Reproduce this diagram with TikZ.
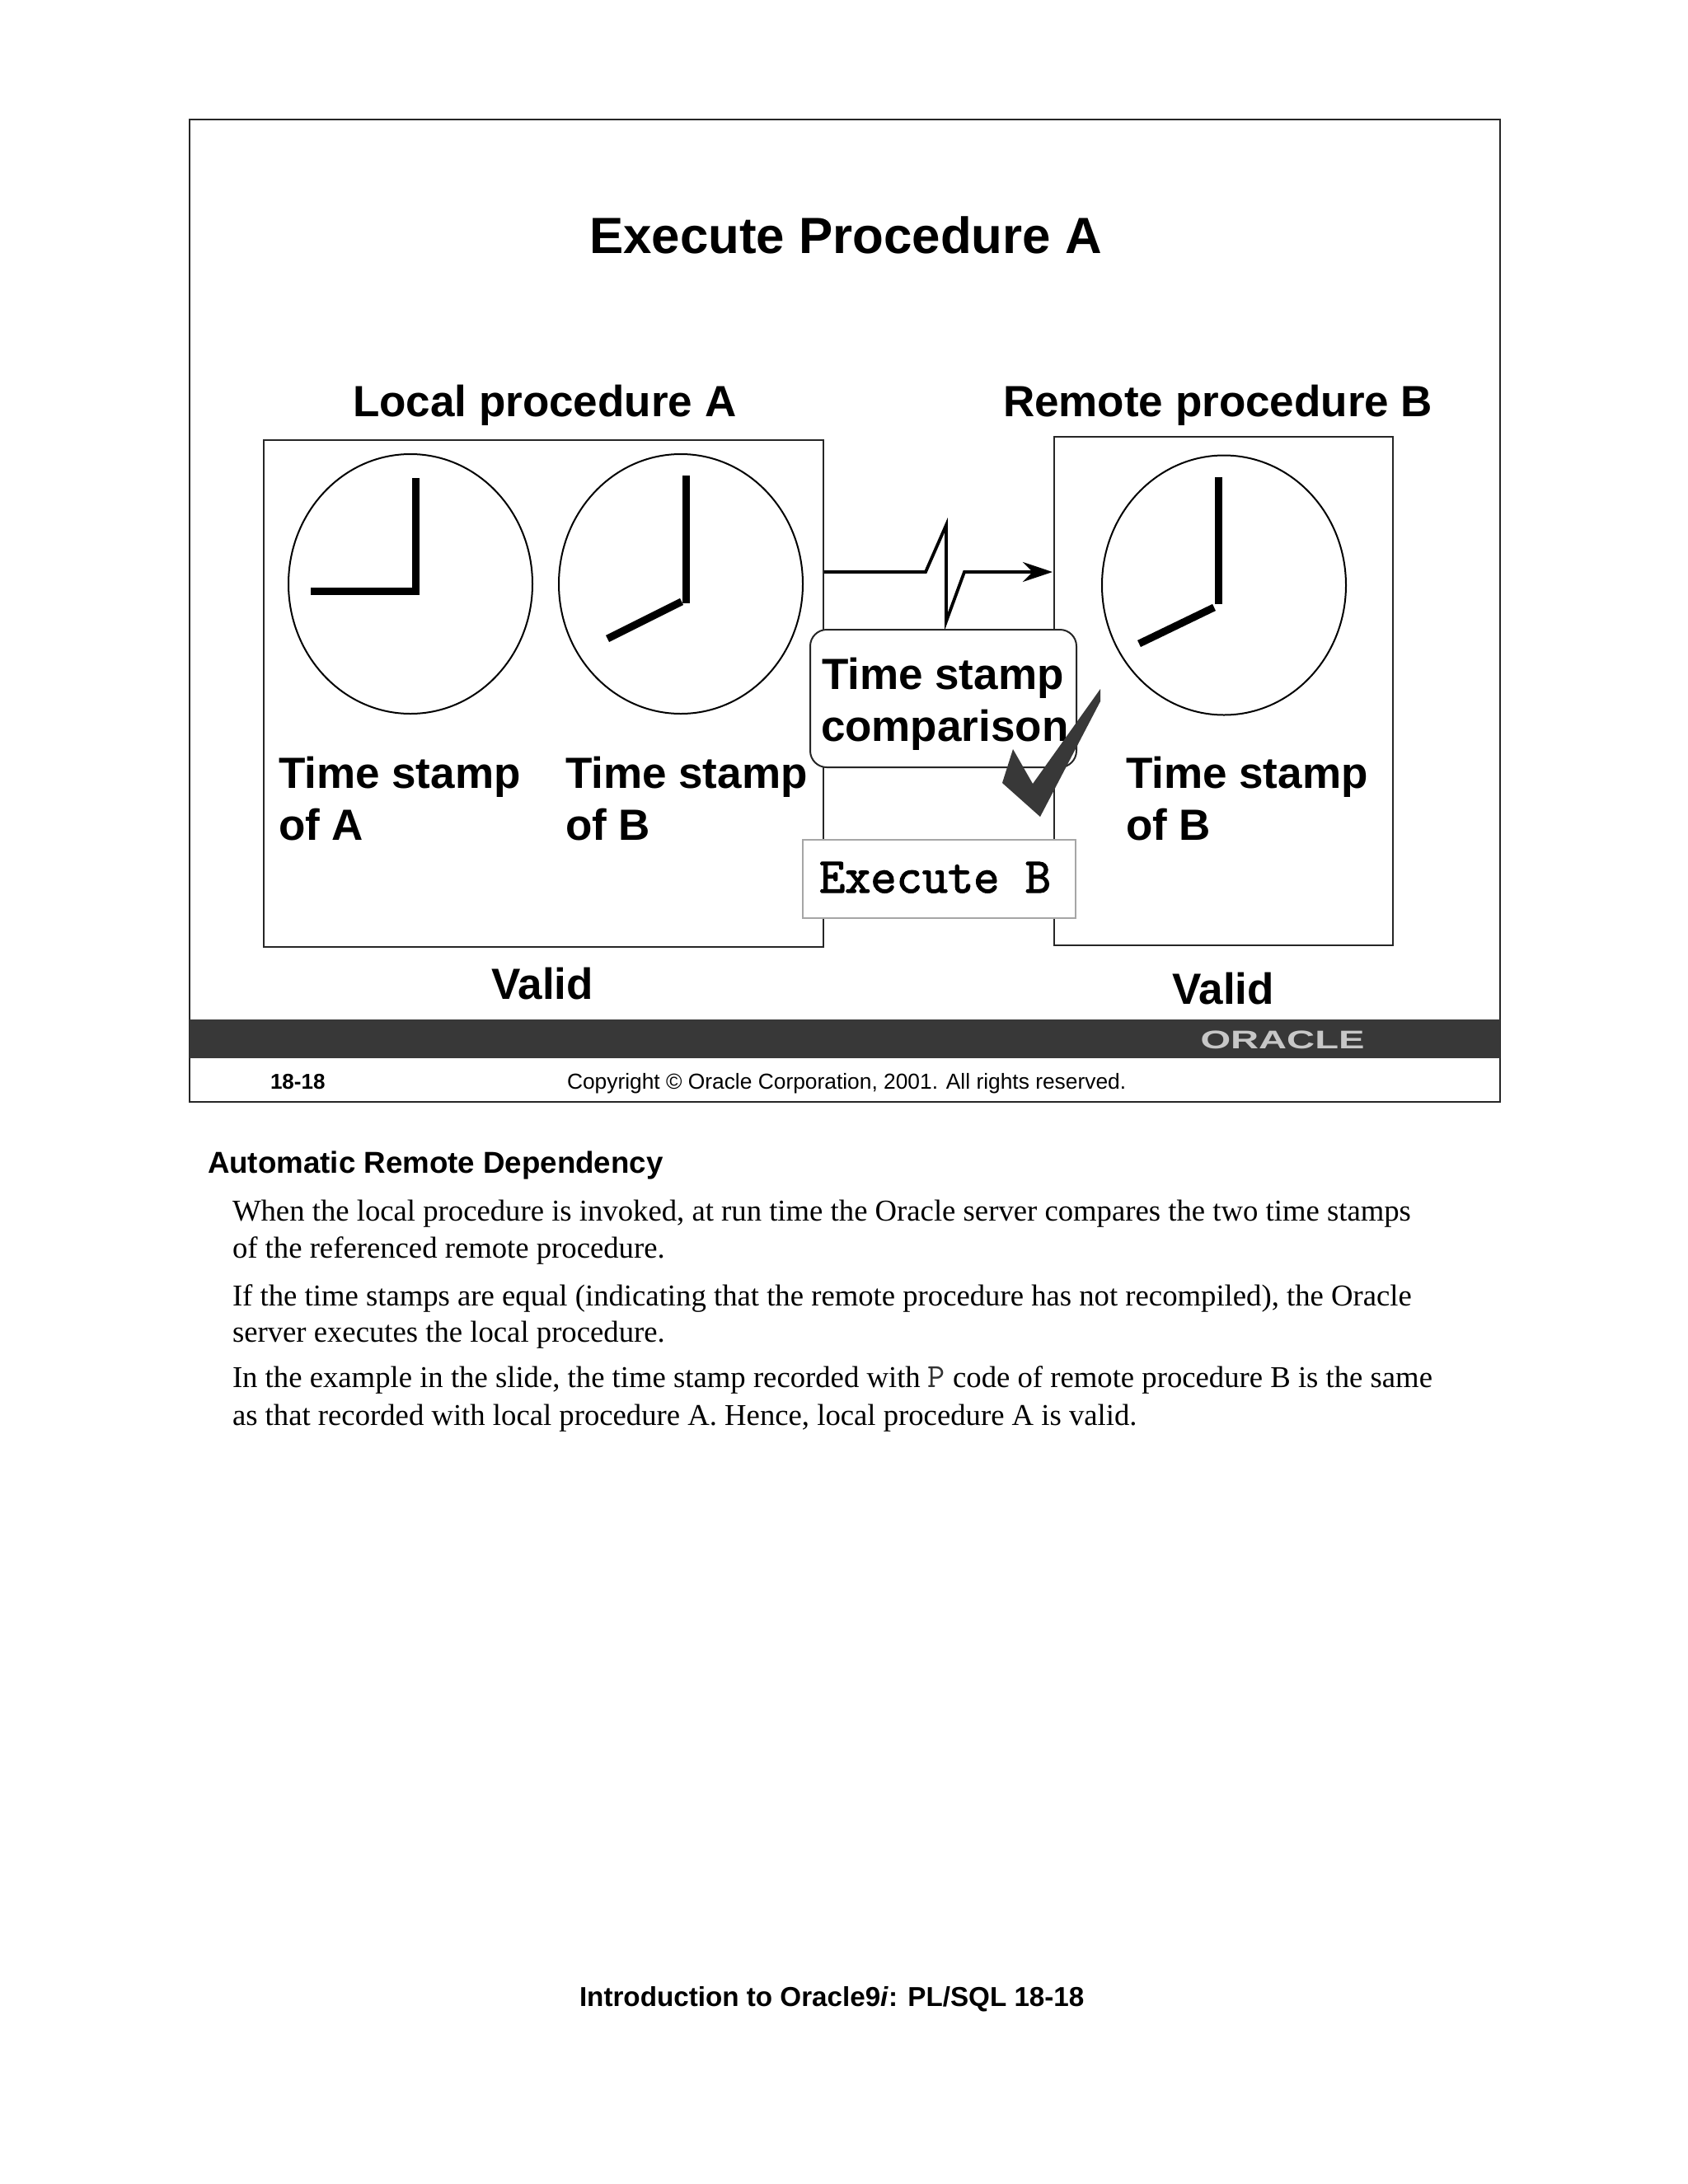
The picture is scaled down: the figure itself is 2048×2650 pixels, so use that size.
\documentclass[tikz,border=0pt]{standalone}
\usepackage{fontspec}
\usetikzlibrary{arrows.meta}
\setmainfont{Liberation Sans}
\newfontfamily\serifbody{Liberation Serif}
\newfontfamily\execfont[FakeBold=2.2]{Latin Modern Mono}
\tikzset{
  txt/.style={anchor=base west,inner sep=0pt,outer sep=0pt,font=#1},
  ctxt/.style={anchor=base,inner sep=0pt,outer sep=0pt,font=#1},
  frame/.style={draw=black!85,line width=1pt,fill=white},
  clock/.style={draw=black,line width=1pt,fill=white},
  hand/.style={draw=black,line width=4.5pt},
  body/.style={txt=\serifbody\fontsize{18.35pt}{22pt}\selectfont},
  lbl/.style={txt=\bfseries\fontsize{26.5pt}{32pt}\selectfont},
}
\begin{document}
\begin{tikzpicture}[x=0.5pt,y=-0.5pt]
\useasboundingbox (0,0) rectangle (2048,2650);
\fill[white] (0,0) rectangle (2048,2650);
% slide
\draw[frame] (230,145) rectangle (1820,1337);
\fill[black!78] (230,1237) rectangle (1820,1284);
\node[ctxt=\bfseries\fontsize{15.5pt}{18pt}\selectfont,text=black!22,xscale=1.52] (logo) at (1556,1272) {ORACLE};
% title
\node[ctxt=\bfseries\fontsize{30.9pt}{38pt}\selectfont] (title) at (1026,307) {Execute Procedure A};
\node[lbl] (loc) at (428,505) {Local procedure A};
\node[lbl] (rem) at (1217,505) {Remote procedure B};
% boxes
\draw[frame] (320,534) rectangle (999,1149);
\draw[frame] (1279,530) rectangle (1690,1147);
% clocks
\draw[clock] (498,708.5) ellipse [x radius=148,y radius=157.5];
\draw[clock] (826,708.5) ellipse [x radius=148,y radius=157.5];
\draw[clock] (1485,710) ellipse [x radius=148,y radius=157.5];
\draw[hand] (504,580) -- (504,717) -- (377,717);
\draw[hand] (832,577) -- (832,732);
\draw[hand] (827,730) -- (737,775);
\draw[hand] (1478,579) -- (1478,733);
\draw[hand] (1473,737) -- (1382,781);
% time stamp labels
\node[lbl] (a1) at (338,956) {Time stamp};
\node[lbl] (a2) at (338,1019) {of A};
\node[lbl] (b1) at (686,956) {Time stamp};
\node[lbl] (b2) at (686,1019) {of B};
\node[lbl] (c1) at (1366,956) {Time stamp};
\node[lbl] (c2) at (1366,1019) {of B};
\node[ctxt=\bfseries\fontsize{26.5pt}{32pt}\selectfont] (v1) at (658,1212) {Valid};
\node[ctxt=\bfseries\fontsize{26.5pt}{32pt}\selectfont] (v2) at (1484,1218) {Valid};
% link
\coordinate (ls) at (1000,694);
\coordinate (le) at (1277,694);
\draw[line width=1.9pt,-{Stealth[length=18pt,width=12pt,inset=6pt]}] (ls) -- (1123,694) -- (1148,637) -- (1148,754) -- (1170,694) -- (le);
% comparison
\draw[frame,fill=white,rounded corners=10pt] (983,764) rectangle (1306,931);
\node[lbl] (t1) at (997,836) {Time stamp};
\node[lbl] (t2) at (996,899) {comparison};
\fill[black!78] (1335,836) -- (1335,851) -- (1262,991) -- (1216,950) -- (1229,909) -- (1253,951) -- cycle;
% execute
\draw[draw=black!35,line width=0.8pt,fill=white] (974,1019) rectangle (1305,1114);
\node[txt=\execfont\fontsize{30.3pt}{34pt}\selectfont] (ex) at (994,1083) {Execute B};
% footer
\node[txt=\bfseries\fontsize{13pt}{16pt}\selectfont] (pg) at (328,1321) {18-18};
\node[txt=\fontsize{13.18pt}{16pt}\selectfont] (cp) at (688,1321) {Copyright © Oracle Corporation, 2001. All rights reserved.};
% notes
\node[txt=\bfseries\fontsize{18.35pt}{22pt}\selectfont] (h) at (252,1423) {Automatic Remote Dependency};
\node[body] (l1) at (282,1481) {When the local procedure is invoked, at run time the Oracle server compares the two time stamps};
\node[body] (l2) at (282,1526) {of the referenced remote procedure.};
\node[body] (l3) at (282,1584) {If the time stamps are equal (indicating that the remote procedure has not recompiled), the Oracle};
\node[body] (l4) at (282,1628) {server executes the local procedure.};
\node[body] (l5) at (282,1683) {In the example in the slide, the time stamp recorded with {\ttfamily\fontsize{20.5pt}{22pt}\selectfont\textcolor{black!80}{P}} code of remote procedure B is the same};
\node[body] (l6) at (282,1729) {as that recorded with local procedure A. Hence, local procedure A is valid.};
\node[txt=\bfseries\fontsize{16.6pt}{20pt}\selectfont] (f) at (703,2434.5) {Introduction to Oracle9\textit{i}: PL/SQL 18-18};
\end{tikzpicture}
\end{document}
